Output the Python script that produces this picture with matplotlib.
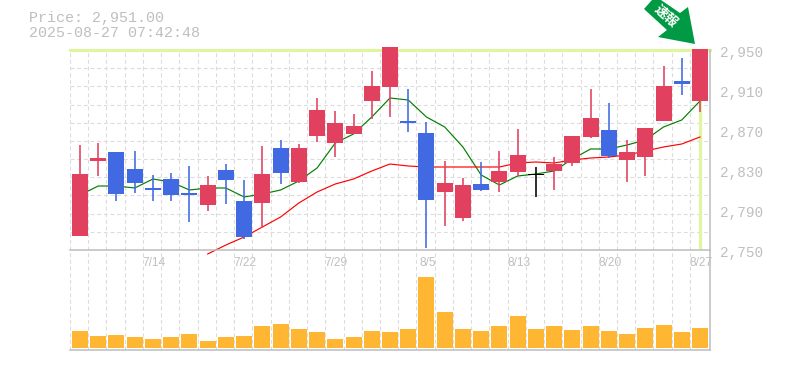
import matplotlib
matplotlib.use("Agg")
import matplotlib.pyplot as plt
from matplotlib.patches import Polygon, Rectangle
from matplotlib.ticker import FixedLocator, NullLocator

W, H = 785, 370

highs = [2855, 2857, 2848, 2849, 2825, 2827, 2834, 2824, 2836, 2820, 2854, 2860, 2856, 2902, 2889, 2886, 2929, 2953,
         2911, 2878, 2839, 2822, 2838, 2849, 2871, 2833, 2843, 2864, 2911, 2897, 2860, 2872, 2934, 2942, 2951]
tops = [2826, 2842, 2848, 2831, 2812, 2821, 2807, 2815, 2830, 2799, 2826, 2852, 2852, 2890, 2877, 2874, 2914, 2953,
        2879, 2867, 2817, 2815, 2816, 2829, 2845, 2826, 2836, 2864, 2882, 2870, 2848, 2872, 2914, 2919, 2951]
bottoms = [2764, 2839, 2806, 2817, 2810, 2805, 2805, 2795, 2820, 2763, 2797, 2827, 2818, 2864, 2857, 2866, 2899, 2913,
           2877, 2800, 2808, 2782, 2810, 2818, 2828, 2825, 2829, 2837, 2863, 2844, 2840, 2843, 2879, 2916, 2899]
lows = [2764, 2824, 2799, 2807, 2799, 2799, 2778, 2789, 2796, 2761, 2772, 2816, 2817, 2858, 2843, 2866, 2881, 2883,
        2868, 2752, 2774, 2779, 2809, 2808, 2824, 2803, 2810, 2834, 2862, 2842, 2818, 2824, 2879, 2905, 2888]
# r = close above open, b = close below, k = unchanged
kinds = list("rrbbbbbrbbrbrrrrrrbbrrbrrkrrrbrrrbr")

ma_short = [2805, 2814, 2814, 2812, 2821, 2818, 2810, 2812, 2812, 2803, 2806, 2810, 2819, 2832, 2857, 2866, 2883, 2902,
            2900, 2883, 2873, 2853, 2825, 2815, 2824, 2826, 2829, 2841, 2851, 2851, 2855, 2860, 2873, 2880, 2899]
ma_long = [2755, 2763, 2773, 2783, 2797, 2808, 2816, 2821, 2829, 2836, 2834, 2833, 2833, 2833, 2833, 2833, 2837, 2838,
           2837, 2840, 2842, 2843, 2845, 2849, 2853, 2856, 2863]
ma_long_start = 8
ma_long_first = 2746

volumes = [17, 12, 13, 11, 9, 11, 14, 7, 11, 12, 22, 24, 19, 16, 9, 11, 17, 16,
           19, 71, 36, 19, 17, 22, 32, 19, 22, 18, 22, 17, 14, 20, 23, 16, 20]

date_pos = [4, 9, 14, 19, 24, 29, 34]
date_labels = ["7/14", "7/22", "7/29", "8/5", "8/13", "8/20", "8/27"]
price_ticks = [2750, 2790, 2830, 2870, 2910, 2950]
price_labels = ["2,750", "2,790", "2,830", "2,870", "2,910", "2,950"]
last_price = 2950.5

COLORS = {"r": "#e1405f", "b": "#4169e1", "k": "#000000"}
GRID = "#dcdcdc"
FRAME = "#bdbdbd"
TEXT = "#bfbfbf"
HILITE = "#dff5a0"

fig = plt.figure(figsize=(W / 100, H / 100), dpi=100, facecolor="white")


def px_axes(x0, y0, x1, y1):
    return fig.add_axes([x0 / W, 1 - y1 / H, (x1 - x0) / W, (y1 - y0) / H])


ax = px_axes(70, 50, 710, 250)
vax = px_axes(70, 250, 710, 350)

n = len(highs)
xlim = (-0.55, n - 1 + 0.55)
ax.set_xlim(xlim)
ax.set_ylim(2750, 2950)
vax.set_xlim(xlim)
vax.set_ylim(-2, 98)

# ── grid ──────────────────────────────────────────────
vgrid = [i - 0.55 for i in range(n)]
hgrid = [2750 + 200 * k / 11 for k in range(1, 11)]
for a in (ax, vax):
    a.set_facecolor("none")
    a.xaxis.set_major_locator(FixedLocator(vgrid))
    a.yaxis.set_major_locator(NullLocator())
    a.tick_params(length=0, labelbottom=False, labelleft=False)
    a.grid(True, axis="x", color=GRID, lw=0.8, ls=(0, (3.5, 2.5)), zorder=0)
    a.set_axisbelow(True)
    for s in ("left", "top"):
        a.spines[s].set_visible(False)
    a.spines["right"].set_color(FRAME)
    a.spines["bottom"].set_color(FRAME)
    a.spines["right"].set_linewidth(1.1)
    a.spines["bottom"].set_linewidth(1.1)
for y in hgrid:
    ax.axhline(y, color=GRID, lw=0.8, ls=(0, (3.5, 2.5)), zorder=0.5)

# ── last price highlight ──────────────────────────────
ax.axhline(last_price, color=HILITE, lw=2.3, zorder=1, clip_on=False)
ax.plot([n - 1, n - 1], [2751, last_price], color=HILITE, lw=2.3, zorder=1, solid_capstyle="butt")

# ── moving averages ───────────────────────────────────
ax.plot(range(n), ma_short, color="#007f00", lw=0.85, zorder=2)
ax.plot([ma_long_start - 1] + list(range(ma_long_start, n)), [ma_long_first] + ma_long,
        color="#ff0000", lw=0.85, zorder=2, clip_on=False)

# ── candles ───────────────────────────────────────────
body_w = 16 / 18.235
for i in range(n):
    c = COLORS[kinds[i]]
    ax.plot([i, i], [lows[i], highs[i]], color=c, lw=1.15, zorder=3, clip_on=False, solid_capstyle="butt")
    ax.add_patch(Rectangle((i - body_w / 2, bottoms[i]), body_w, tops[i] - bottoms[i],
                           facecolor=c, edgecolor="none", zorder=4, clip_on=False))

# ── volume ────────────────────────────────────────────
vax.bar(range(n), volumes, width=body_w, color="#ffb733", zorder=3)

# ── labels ────────────────────────────────────────────
for p, lab in zip(price_ticks, price_labels):
    ax.annotate(lab, (1, p), xycoords=("axes fraction", "data"), xytext=(7.2, -2.2), textcoords="offset points",
                family="Liberation Mono", fontsize=10.4, color=TEXT, va="center", ha="left", annotation_clip=False)
for p, lab in zip(date_pos, date_labels):
    ax.annotate(lab, (p, 2750), xycoords="data", xytext=(0.7, -9.2), textcoords="offset points",
                family="Liberation Sans", fontsize=8.6, color=TEXT, va="center", ha="center", annotation_clip=False,
                zorder=5)

fig.text(29 / W, 1 - 18 / H, "Price: 2,951.00", family="Liberation Mono", fontsize=10.8, color=TEXT, va="center")
fig.text(29 / W, 1 - 33 / H, "2025-08-27 07:42:48", family="Liberation Mono", fontsize=10.8, color=TEXT, va="center")

# ── arrow badge ───────────────────────────────────────
arrow_px = [(644, 9), (652, 0), (661, 0), (680, 13), (688, 7), (695, 44), (658, 37), (667, 30)]
fig.add_artist(Polygon([(x / W, 1 - y / H) for x, y in arrow_px], closed=True, transform=fig.transFigure,
                       facecolor="#009944", edgecolor="none", zorder=6))
fig.text(665.5 / W, 1 - 16 / H, "速報", family=["Noto Sans CJK JP", "DejaVu Sans"], fontsize=9.5, fontweight="bold",
         color="white", rotation=-42, rotation_mode="anchor", ha="center", va="center", zorder=7)

fig.savefig("out.png", dpi=100)
